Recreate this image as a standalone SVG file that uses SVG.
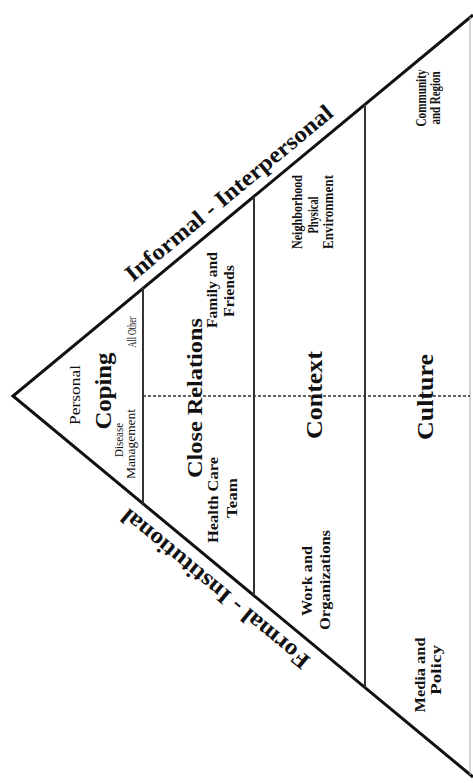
<svg xmlns="http://www.w3.org/2000/svg" width="473" height="783" viewBox="0 0 473 783">
<style>
text{font-family:"Liberation Serif","Times New Roman",serif;fill:#111}
.s{font-size:14.5px;font-weight:bold}
.xs{font-size:11.5px}
.b{font-size:23px;font-weight:bold}
.edge{fill:none;stroke:#111;stroke-width:3;stroke-linejoin:miter}
.div{stroke:#333;stroke-width:2}
.dot{stroke:#333;stroke-width:1.5;stroke-dasharray:3 2}
</style>
<rect width="473" height="783" fill="#fff"/>
<g id="connectors">
<polyline class="edge" points="473,15 13,396 473,777"/>
<line x1="470" y1="17" x2="470" y2="775" stroke="#aaa" stroke-width="1"/>
<line class="div" x1="143" y1="288.3" x2="143" y2="503.7"/>
<line class="div" x1="254" y1="196.4" x2="254" y2="595.6"/>
<line class="div" x1="365" y1="104.4" x2="365" y2="687.6"/>
<line class="dot" x1="143" y1="396" x2="470" y2="396"/>
</g>
<g id="axis-informal">
<text transform="translate(233.6,198.9) rotate(-39.63)" text-anchor="middle" font-size="23" font-weight="bold" textLength="262" lengthAdjust="spacingAndGlyphs">Informal - Interpersonal</text>
</g>
<g id="axis-formal">
<text transform="translate(220.1,583.2) rotate(219.63)" text-anchor="middle" font-size="23" font-weight="bold" textLength="237" lengthAdjust="spacingAndGlyphs">Formal - Institutional</text>
</g>
<g id="tier-coping">
<text transform="translate(80,395) rotate(-90)" text-anchor="middle" style="font-size:15px" textLength="60" lengthAdjust="spacingAndGlyphs">Personal</text>
<text class="b" transform="translate(111,391) rotate(-90)" text-anchor="middle" textLength="77" lengthAdjust="spacingAndGlyphs">Coping</text>
<text class="xs" transform="translate(123,440) rotate(-90)" text-anchor="middle" textLength="34" lengthAdjust="spacingAndGlyphs">Disease</text>
<text class="xs" transform="translate(135,444) rotate(-90)" text-anchor="middle" textLength="70" lengthAdjust="spacingAndGlyphs">Management</text>
<text class="xs" transform="translate(136,332) rotate(-90)" text-anchor="middle" textLength="31" lengthAdjust="spacingAndGlyphs">All Other</text>
</g>
<g id="tier-close-relations">
<text transform="translate(202,398) rotate(-90)" text-anchor="middle" style="font-size:22px;font-weight:bold" textLength="160" lengthAdjust="spacingAndGlyphs">Close Relations</text>
<text class="s" transform="translate(217,290) rotate(-90)" text-anchor="middle" textLength="76" lengthAdjust="spacingAndGlyphs">Family and</text>
<text class="s" transform="translate(234,291) rotate(-90)" text-anchor="middle" textLength="52" lengthAdjust="spacingAndGlyphs">Friends</text>
<text class="s" transform="translate(218,500) rotate(-90)" text-anchor="middle" textLength="86" lengthAdjust="spacingAndGlyphs">Health Care</text>
<text class="s" transform="translate(237,498) rotate(-90)" text-anchor="middle" textLength="40" lengthAdjust="spacingAndGlyphs">Team</text>
</g>
<g id="tier-context">
<text class="b" transform="translate(322,395) rotate(-90)" text-anchor="middle" textLength="88" lengthAdjust="spacingAndGlyphs">Context</text>
<text class="s" transform="translate(302,212) rotate(-90)" text-anchor="middle" textLength="74" lengthAdjust="spacingAndGlyphs">Neighborhood</text>
<text class="s" transform="translate(318,215) rotate(-90)" text-anchor="middle" textLength="37" lengthAdjust="spacingAndGlyphs">Physical</text>
<text class="s" transform="translate(333,212) rotate(-90)" text-anchor="middle" textLength="74" lengthAdjust="spacingAndGlyphs">Environment</text>
<text class="s" transform="translate(312,581) rotate(-90)" text-anchor="middle" textLength="70" lengthAdjust="spacingAndGlyphs">Work and</text>
<text class="s" transform="translate(330,580) rotate(-90)" text-anchor="middle" textLength="100" lengthAdjust="spacingAndGlyphs">Organizations</text>
</g>
<g id="tier-culture">
<text class="b" transform="translate(433,397) rotate(-90)" text-anchor="middle" textLength="86" lengthAdjust="spacingAndGlyphs">Culture</text>
<text class="s" transform="translate(426,98) rotate(-90)" text-anchor="middle" textLength="57" lengthAdjust="spacingAndGlyphs">Community</text>
<text class="s" transform="translate(440,98) rotate(-90)" text-anchor="middle" textLength="53" lengthAdjust="spacingAndGlyphs">and Region</text>
<text class="s" transform="translate(425,675) rotate(-90)" text-anchor="middle" textLength="75" lengthAdjust="spacingAndGlyphs">Media and</text>
<text class="s" transform="translate(441,670) rotate(-90)" text-anchor="middle" textLength="50" lengthAdjust="spacingAndGlyphs">Policy</text>
</g>
</svg>
